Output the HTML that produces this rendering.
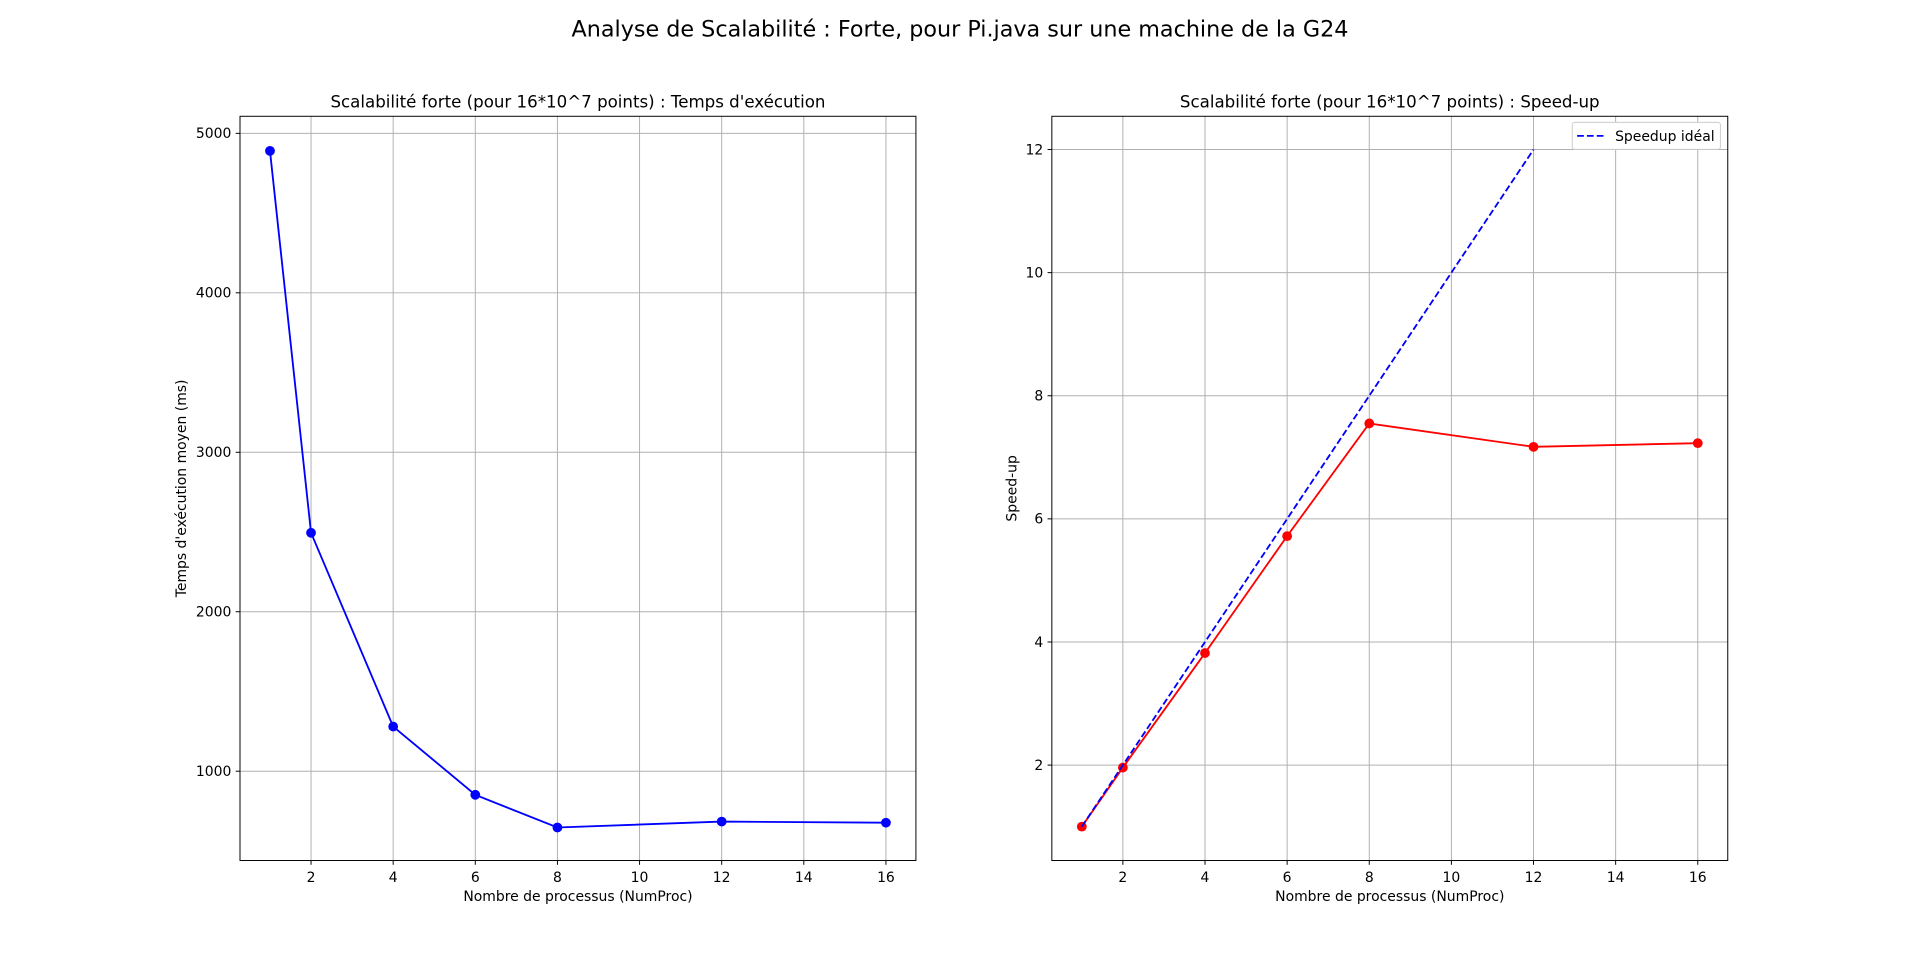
<!DOCTYPE html>
<html><head><meta charset="utf-8"><style>
html,body{margin:0;padding:0;background:#fff;}
svg{display:block;font-family:"DejaVu Sans","Liberation Sans",sans-serif;}
</style></head><body>
<svg id="fig" width="1920" height="967" viewBox="0 0 1568 790" preserveAspectRatio="none" xmlns="http://www.w3.org/2000/svg">
<rect width="1568" height="790" fill="#fff"/>
<text x="784" y="30" font-size="18.2" text-anchor="middle">Analyse de Scalabilité : Forte, pour Pi.java sur une machine de la G24</text>
</svg>
<script>
const procs = [1, 2, 4, 6, 8, 12, 16];
const timesMs = [4890, 2495, 1280, 852, 647, 684, 677];
const speedup = [1.0, 1.96, 3.82, 5.72, 7.55, 7.17, 7.23];
const idealProcs = [1, 2, 4, 6, 8, 12];
const idealSpeedup = [1, 2, 4, 6, 8, 12];
const xTicks = [2, 4, 6, 8, 10, 12, 14, 16];
const yTicksTime = [1000, 2000, 3000, 4000, 5000];
const yTicksSpeed = [2, 4, 6, 8, 10, 12];

const NS = "http://www.w3.org/2000/svg";
const svg = document.getElementById('fig');
function mk(tag, attrs, parent) {
  const e = document.createElementNS(NS, tag);
  for (const k in attrs) e.setAttribute(k, attrs[k]);
  (parent || svg).appendChild(e);
  return e;
}

function panel(opt) {
  const g = mk('g', {});
  
  
  const L = opt.left, R = opt.left + 552, T = 95, B = 703;
  const xmin = 0.27, xmax = 16.73;
  const sx = v => L + (v - xmin) / (xmax - xmin) * (R - L);
  const sy = v => B - (v - opt.ymin) / (opt.ymax - opt.ymin) * (B - T);
  xTicks.forEach(t => {
    const l = mk('line', {x1: sx(t), x2: sx(t), y1: T, y2: B, stroke: '#b0b0b0', 'stroke-width': 0.8}, g);
    
    
    mk('line', {x1: sx(t), x2: sx(t), y1: B, y2: B + 3.5, stroke: '#000', 'stroke-width': 0.8}, g);
    const tx = mk('text', {x: sx(t), y: B + 17.5, 'font-size': 11.4, 'text-anchor': 'middle'}, g);
    tx.textContent = t;
    
    
  });
  opt.yTicks.forEach(t => {
    const l = mk('line', {x1: L, x2: R, y1: sy(t), y2: sy(t), stroke: '#b0b0b0', 'stroke-width': 0.8}, g);
    
    
    mk('line', {x1: L - 3.5, x2: L, y1: sy(t), y2: sy(t), stroke: '#000', 'stroke-width': 0.8}, g);
    const tx = mk('text', {x: L - 7, y: sy(t) + 4, 'font-size': 11.4, 'text-anchor': 'end'}, g);
    tx.textContent = t;
    
    
  });
  opt.series.forEach(s => {
    const pts = s.x.map((v, i) => sx(v) + ',' + sy(s.y[i])).join(' ');
    const pl = mk('polyline', {points: pts, fill: 'none', stroke: s.color, 'stroke-width': 1.5, 'stroke-dasharray': s.dash || ''}, g);
    
    
    if (s.markers) s.x.forEach((v, i) => {
      const c = mk('circle', {cx: sx(v), cy: sy(s.y[i]), r: 4, fill: s.color}, g);
      
      
    });
  });
  const fr = mk('rect', {x: L, y: T, width: R - L, height: B - T, fill: 'none', stroke: '#000', 'stroke-width': 0.8}, g);
  
  
  const tt = mk('text', {x: (L + R) / 2, y: T - 7, 'font-size': 13.6, 'text-anchor': 'middle'}, g);
  tt.textContent = opt.title;
  
  
  const xl = mk('text', {x: (L + R) / 2, y: B + 33, 'font-size': 11.4, 'text-anchor': 'middle'}, g);
  xl.textContent = 'Nombre de processus (NumProc)';
  
  
  const yx = opt.ylabelX, yy = (T + B) / 2;
  const yl = mk('text', {x: yx, y: yy, 'font-size': 11.4, 'text-anchor': 'middle', transform: 'rotate(-90 ' + yx + ' ' + yy + ')'}, g);
  yl.textContent = opt.ylabel;
  
  
  return {g, L, R, T, B};
}

panel({name: 'time-panel', left: 196, ymin: 440, ymax: 5107, yTicks: yTicksTime,
  title: "Scalabilité forte (pour 16*10^7 points) : Temps d'exécution",
  ylabel: "Temps d'exécution moyen (ms)", ylabelX: 152,
  series: [{name: 'time-line', x: procs, y: timesMs, color: '#0000ff', markers: true}]});

const p2 = panel({name: 'speedup-panel', left: 859, ymin: 0.45, ymax: 12.54, yTicks: yTicksSpeed,
  title: "Scalabilité forte (pour 16*10^7 points) : Speed-up",
  ylabel: "Speed-up", ylabelX: 830,
  series: [
    {name: 'speedup-line', x: procs, y: speedup, color: '#ff0000', markers: true},
    {name: 'ideal-speedup-line', x: idealProcs, y: idealSpeedup, color: '#0000ff', dash: '5.5,2.5'}
  ]});

const lg = mk('g', {}, p2.g);


mk('rect', {x: 1284, y: 100, width: 121, height: 22, rx: 2, fill: '#fff', stroke: '#ccc', 'stroke-width': 0.8}, lg);
mk('line', {x1: 1288, x2: 1312, y1: 111, y2: 111, stroke: '#0000ff', 'stroke-width': 1.5, 'stroke-dasharray': '5.5,2.5'}, lg);
const lt = mk('text', {x: 1319, y: 115, 'font-size': 11.4}, lg);
lt.textContent = 'Speedup idéal';


</script>
</body></html>
